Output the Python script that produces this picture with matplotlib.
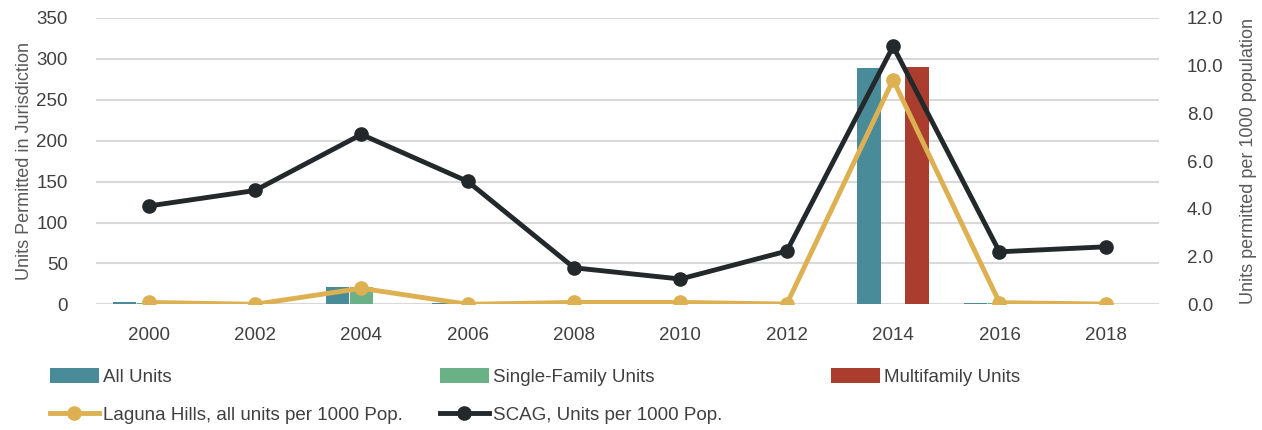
import matplotlib.pyplot as plt
import numpy as np

# Datos
years = ['2000', '2002', '2004', '2006', '2008', '2010', '2012', '2014', '2016', '2018']
all_units = [3, 0, 21, 1, 0, 0, 0, 289, 1, 0]
single_family = [1, 0, 21, 0, 0, 0, 0, 0, 1, 0]
multifamily = [0, 0, 0, 0, 0, 0, 0, 290, 0, 0]
laguna_per_1000 = [0.08, 0.0, 0.67, 0.0, 0.08, 0.08, 0.01, 9.41, 0.07, 0.01]
scag_per_1000 = [4.12, 4.77, 7.12, 5.15, 1.53, 1.06, 2.23, 10.81, 2.20, 2.41]

c_all = '#4a8b9a'
c_single = '#6ab187'
c_multi = '#ab3d2f'
c_laguna = '#ddb052'
c_scag = '#23282b'

plt.rcParams['font.family'] = ['Liberation Sans', 'DejaVu Sans']

fig = plt.figure(figsize=(12.62, 4.30), dpi=100)
ax = fig.add_axes([95.5 / 1262, 1 - 304.3 / 430, (1159 - 95.5) / 1262, (304.3 - 18) / 430])

x = np.arange(len(years))
w = 0.22
ax.bar(x - 0.225, all_units, w, color=c_all, label='All Units', zorder=2)
ax.bar(x, single_family, w, color=c_single, label='Single-Family Units', zorder=2)
ax.bar(x + 0.225, multifamily, w, color=c_multi, label='Multifamily Units', zorder=2)

ax.set_xlim(-0.5, len(years) - 0.5)
ax.set_ylim(0, 350)
ax.set_yticks(range(0, 351, 50))
ax.set_xticks(x)
ax.set_xticklabels(years)
ax.grid(axis='y', color='#d9d9d9', linewidth=1.5, zorder=0)
ax.set_axisbelow(True)
for s in ax.spines.values():
    s.set_visible(False)
ax.tick_params(length=0, labelsize=13.5, colors='#404040')
ax.tick_params(axis='x', pad=16)
ax.tick_params(axis='y', pad=20)
ax.set_ylabel('Units Permitted in Jurisdiction', fontsize=13, color='#595959', labelpad=2)

# Eje secundario
ax2 = ax.twinx()
ax2.plot(x, laguna_per_1000, color=c_laguna, lw=3.5, marker='o', ms=9.5,
         label='Laguna Hills, all units per 1000 Pop.', zorder=3)
ax2.plot(x, scag_per_1000, color=c_scag, lw=3.5, marker='o', ms=9.5,
         label='SCAG, Units per 1000 Pop.', zorder=4)
ax2.set_ylim(0, 12)
ax2.set_yticks(np.arange(0, 12.1, 2))
ax2.set_yticklabels([f'{v:.1f}' for v in np.arange(0, 12.1, 2)])
for s in ax2.spines.values():
    s.set_visible(False)
ax2.tick_params(length=0, labelsize=13.5, colors='#404040', pad=20)
ax2.set_ylabel('Units permitted per 1000 population', fontsize=13, color='#595959', labelpad=12)

# Leyenda en rejilla (tres columnas)
h1, l1 = ax.get_legend_handles_labels()
h2, l2 = ax2.get_legend_handles_labels()
cols = [([h1[0], h2[0]], [l1[0], l2[0]], 50),
        ([h1[1], h2[1]], [l1[1], l2[1]], 440),
        ([h1[2]], [l1[2]], 831)]
for hs, ls, xpx in cols:
    fig.legend(hs, ls, loc='upper left', bbox_to_anchor=(xpx / 1262, 1 - 368 / 430),
               frameon=False, fontsize=13.5, handlelength=2.6, handleheight=0.85,
               handletextpad=0.25, labelspacing=1.05, borderpad=0, borderaxespad=0,
               labelcolor='#404040')

fig.savefig('out.png', dpi=100)
